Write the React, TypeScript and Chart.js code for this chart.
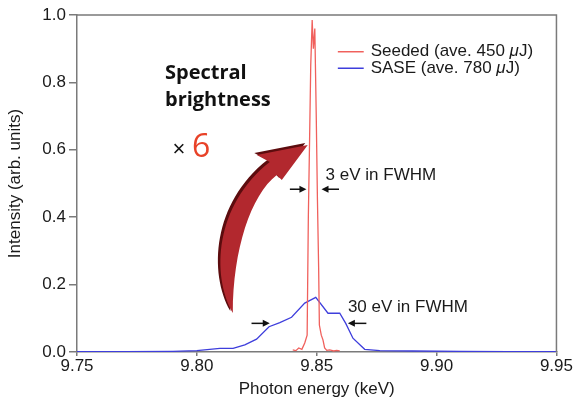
import React, { useEffect, useRef } from 'react';
import { Chart, registerables } from 'chart.js';

Chart.register(...registerables);

// ---- Data ----
const SEEDED_LABEL = 'Seeded (ave. 450 μJ)';
const SASE_LABEL = 'SASE (ave. 780 μJ)';

const SEEDED_X = [9.8400, 9.8413, 9.8425, 9.8438, 9.8450, 9.8460, 9.8465, 9.8470, 9.8475, 9.8481, 9.8486, 9.8492, 9.8498, 9.8503, 9.8508, 9.8511, 9.8519, 9.8526, 9.8533, 9.8542, 9.8554, 9.8571, 9.8583, 9.8596];
const SEEDED_Y = [0.006, 0.004, 0.012, 0.008, 0.027, 0.05, 0.40, 0.62, 0.85, 0.985, 0.90, 0.96, 0.70, 0.45, 0.25, 0.08, 0.05, 0.036, 0.012, 0.005, 0.006, 0.003, 0.005, 0.003];

const SASE_X = [9.750, 9.770, 9.790, 9.800, 9.8096, 9.8151, 9.8200, 9.8249, 9.8301, 9.8346, 9.8395, 9.8450, 9.8496, 9.8547, 9.8596, 9.8621, 9.8651, 9.8700, 9.8763, 9.8900, 9.9100, 9.9300, 9.9500];
const SASE_Y = [0.001, 0.001, 0.002, 0.004, 0.011, 0.011, 0.021, 0.038, 0.075, 0.087, 0.103, 0.145, 0.162, 0.115, 0.115, 0.085, 0.041, 0.008, 0.004, 0.003, 0.002, 0.001, 0.001];

const X_TICKS = [9.75, 9.80, 9.85, 9.90, 9.95];
const Y_TICKS = [0.0, 0.2, 0.4, 0.6, 0.8, 1.0];

// ---- Styles ----
const RED = 'rgb(240, 96, 92)';
const BLUE = 'rgb(62, 62, 220)';
const AXIS = '#7a7a7a';
const TEXT = '#1a1a1a';
const FONT = '"Liberation Sans", Helvetica, Arial, sans-serif';
const FS = 17;

// Annotation anchors (data coordinates)
const LEGEND_POS = { x0: 9.8588, x1: 9.8696, xt: 9.8725, y: [0.891, 0.842] };
const NOTE_3EV = { x: 9.8537, y: 0.525, ay: 0.483, r: [9.8388, 9.8457], l: [9.8593, 9.8520] };
const NOTE_30EV = { x: 9.8630, y: 0.134, ay: 0.085, r: [9.8228, 9.8304], l: [9.8707, 9.8630] };
const BRIGHT = { x: 9.7867, y1: 0.828, y2: 0.748, xm: 9.7925, ym: 0.599, x6: 9.7980, y6: 0.607 };
const BIG_ARROW = {
  tail: [9.81500, 0.1157],
  oc1: [9.80600, 0.2285], oc2: [9.80750, 0.4362], oEnd: [9.83042, 0.5638],
  barb1: [9.8250, 0.5846], tip: [9.84625, 0.6142], barb2: [9.83542, 0.5104],
  iStart: [9.83333, 0.5252], ic1: [9.82250, 0.4659], ic2: [9.81500, 0.3027],
};

function drawRich(ctx: CanvasRenderingContext2D, text: string, x: number, y: number, size: number) {
  const parts = text.split('μ');
  let cx = x;
  parts.forEach((p, i) => {
    ctx.font = `${size}px ${FONT}`;
    ctx.fillText(p, cx, y);
    cx += ctx.measureText(p).width;
    if (i < parts.length - 1) {
      ctx.font = `italic ${size}px ${FONT}`;
      ctx.fillText('μ', cx, y);
      cx += ctx.measureText('μ').width;
    }
  });
}

function smallArrow(ctx: CanvasRenderingContext2D, x1: number, x2: number, y: number) {
  const dir = x2 > x1 ? 1 : -1;
  const hl = 7, hw = 3.5;
  ctx.strokeStyle = '#111';
  ctx.fillStyle = '#111';
  ctx.lineWidth = 1.5;
  ctx.beginPath();
  ctx.moveTo(x1, y);
  ctx.lineTo(x2 - dir * hl * 0.6, y);
  ctx.stroke();
  ctx.beginPath();
  ctx.moveTo(x2, y);
  ctx.lineTo(x2 - dir * hl, y - hw);
  ctx.lineTo(x2 - dir * hl, y + hw);
  ctx.closePath();
  ctx.fill();
}

const overlay = {
  id: 'overlay',
  afterDatasetsDraw(chart: any) {
    const { ctx, chartArea: ca, scales } = chart;
    const X = (v: number) => scales.x.getPixelForValue(v);
    const Y = (v: number) => scales.y.getPixelForValue(v);
    ctx.save();

    // frame (top + right)
    ctx.strokeStyle = AXIS;
    ctx.lineWidth = 1.5;
    ctx.beginPath();
    ctx.moveTo(ca.left, ca.top);
    ctx.lineTo(ca.right, ca.top);
    ctx.lineTo(ca.right, ca.bottom);
    ctx.stroke();

    // legend
    ctx.textBaseline = 'middle';
    ctx.textAlign = 'left';
    chart.data.datasets.forEach((ds: any, i: number) => {
      const yy = Y(LEGEND_POS.y[i]);
      ctx.strokeStyle = ds.borderColor;
      ctx.lineWidth = 1.5;
      ctx.beginPath();
      ctx.moveTo(X(LEGEND_POS.x0), yy);
      ctx.lineTo(X(LEGEND_POS.x1), yy);
      ctx.stroke();
      ctx.fillStyle = TEXT;
      drawRich(ctx, ds.label, X(LEGEND_POS.xt), yy, FS);
    });

    // FWHM notes
    ctx.fillStyle = TEXT;
    ctx.font = `${FS}px ${FONT}`;
    ctx.fillText('3 eV in FWHM', X(NOTE_3EV.x), Y(NOTE_3EV.y));
    smallArrow(ctx, X(NOTE_3EV.r[0]), X(NOTE_3EV.r[1]), Y(NOTE_3EV.ay));
    smallArrow(ctx, X(NOTE_3EV.l[0]), X(NOTE_3EV.l[1]), Y(NOTE_3EV.ay));
    ctx.fillStyle = TEXT;
    ctx.font = `${FS}px ${FONT}`;
    ctx.fillText('30 eV in FWHM', X(NOTE_30EV.x), Y(NOTE_30EV.y));
    smallArrow(ctx, X(NOTE_30EV.r[0]), X(NOTE_30EV.r[1]), Y(NOTE_30EV.ay));
    smallArrow(ctx, X(NOTE_30EV.l[0]), X(NOTE_30EV.l[1]), Y(NOTE_30EV.ay));

    // Spectral brightness x6
    ctx.fillStyle = '#111';
    ctx.font = `bold 20px "Open Sans", Lato, sans-serif`;
    ctx.fillText('Spectral', X(BRIGHT.x), Y(BRIGHT.y1));
    ctx.fillText('brightness', X(BRIGHT.x), Y(BRIGHT.y2));
    ctx.textAlign = 'center';
    ctx.font = `22px ${FONT}`;
    ctx.fillText('×', X(BRIGHT.xm), Y(BRIGHT.ym));
    ctx.textAlign = 'left';
    ctx.fillStyle = 'rgb(232, 66, 40)';
    ctx.font = `32px "Open Sans", Lato, sans-serif`;
    ctx.fillText('6', X(BRIGHT.x6), Y(BRIGHT.y6));

    // big curved arrow
    const P = (p: number[], dx = 0, dy = 0) => [X(p[0]) + dx, Y(p[1]) + dy];
    const shape = (dx: number, dy: number) => {
      const a = BIG_ARROW;
      ctx.beginPath();
      let p = P(a.tail, dx, dy);
      ctx.moveTo(p[0], p[1]);
      const c1 = P(a.oc1, dx, dy), c2 = P(a.oc2, dx, dy), e = P(a.oEnd, dx, dy);
      ctx.bezierCurveTo(c1[0], c1[1], c2[0], c2[1], e[0], e[1]);
      p = P(a.barb1, dx, dy); ctx.lineTo(p[0], p[1]);
      p = P(a.tip, dx, dy); ctx.lineTo(p[0], p[1]);
      p = P(a.barb2, dx, dy); ctx.lineTo(p[0], p[1]);
      p = P(a.iStart, dx, dy); ctx.lineTo(p[0], p[1]);
      const d1 = P(a.ic1, dx, dy), d2 = P(a.ic2, dx, dy), t = P(a.tail, dx, dy);
      ctx.bezierCurveTo(d1[0], d1[1], d2[0], d2[1], t[0], t[1]);
      ctx.closePath();
    };
    ctx.fillStyle = 'rgb(92, 12, 14)';
    shape(-2.5, -2);
    ctx.fill();
    ctx.fillStyle = 'rgb(178, 40, 46)';
    shape(0, 0);
    ctx.fill();

    ctx.restore();
  },
};

export default function App() {
  const ref = useRef<HTMLCanvasElement | null>(null);
  useEffect(() => {
    if (!ref.current) return;
    const chart = new Chart(ref.current, {
      type: 'line',
      data: {
        datasets: [
          {
            label: SEEDED_LABEL,
            data: SEEDED_X.map((x, i) => ({ x, y: SEEDED_Y[i] })),
            borderColor: RED,
            borderWidth: 1.3,
            pointRadius: 0,
            fill: false,
            tension: 0,
          },
          {
            label: SASE_LABEL,
            data: SASE_X.map((x, i) => ({ x, y: SASE_Y[i] })),
            borderColor: BLUE,
            borderWidth: 1.3,
            pointRadius: 0,
            fill: false,
            tension: 0,
          },
        ],
      },
      options: {
        animation: false,
        responsive: false,
        devicePixelRatio: 1,
        layout: { padding: { top: 15, right: 16, left: 0, bottom: 0 } },
        plugins: { legend: { display: false }, tooltip: { enabled: false } },
        scales: {
          x: {
            type: 'linear',
            min: 9.75,
            max: 9.95,
            afterBuildTicks: (s: any) => { s.ticks = X_TICKS.map((v) => ({ value: v })); },
            afterFit: (s: any) => { s.height = 48; },
            ticks: {
              autoSkip: false,
              maxRotation: 0,
              padding: 0,
              color: TEXT,
              font: { family: FONT, size: FS },
              callback: (v: any) => Number(v).toFixed(2),
            },
            grid: { drawOnChartArea: false, drawTicks: true, tickLength: 4, color: AXIS, lineWidth: 1.5 },
            border: { display: true, color: AXIS, width: 1.5 },
            title: { display: true, text: 'Photon energy (keV)', color: TEXT, font: { family: FONT, size: FS }, padding: { top: 0, bottom: 0 } },
          },
          y: {
            type: 'linear',
            min: 0,
            max: 1.0,
            afterBuildTicks: (s: any) => { s.ticks = Y_TICKS.map((v) => ({ value: v })); },
            afterFit: (s: any) => { s.width = 77; },
            ticks: {
              padding: 3,
              color: TEXT,
              font: { family: FONT, size: FS },
              callback: (v: any) => Number(v).toFixed(1),
            },
            grid: { drawOnChartArea: false, drawTicks: true, tickLength: 8, color: AXIS, lineWidth: 1.5 },
            border: { display: true, color: AXIS, width: 1.5 },
            title: { display: true, text: 'Intensity (arb. units)', color: TEXT, font: { family: FONT, size: FS }, padding: { top: 5, bottom: 0 } },
          },
        },
      },
      plugins: [overlay],
    });
    return () => chart.destroy();
  }, []);
  return (
    <div style={{ position: 'absolute', left: 0, top: 0, width: 573, height: 400, background: '#fff' }}>
      <canvas ref={ref} width={573} height={400} />
    </div>
  );
}
